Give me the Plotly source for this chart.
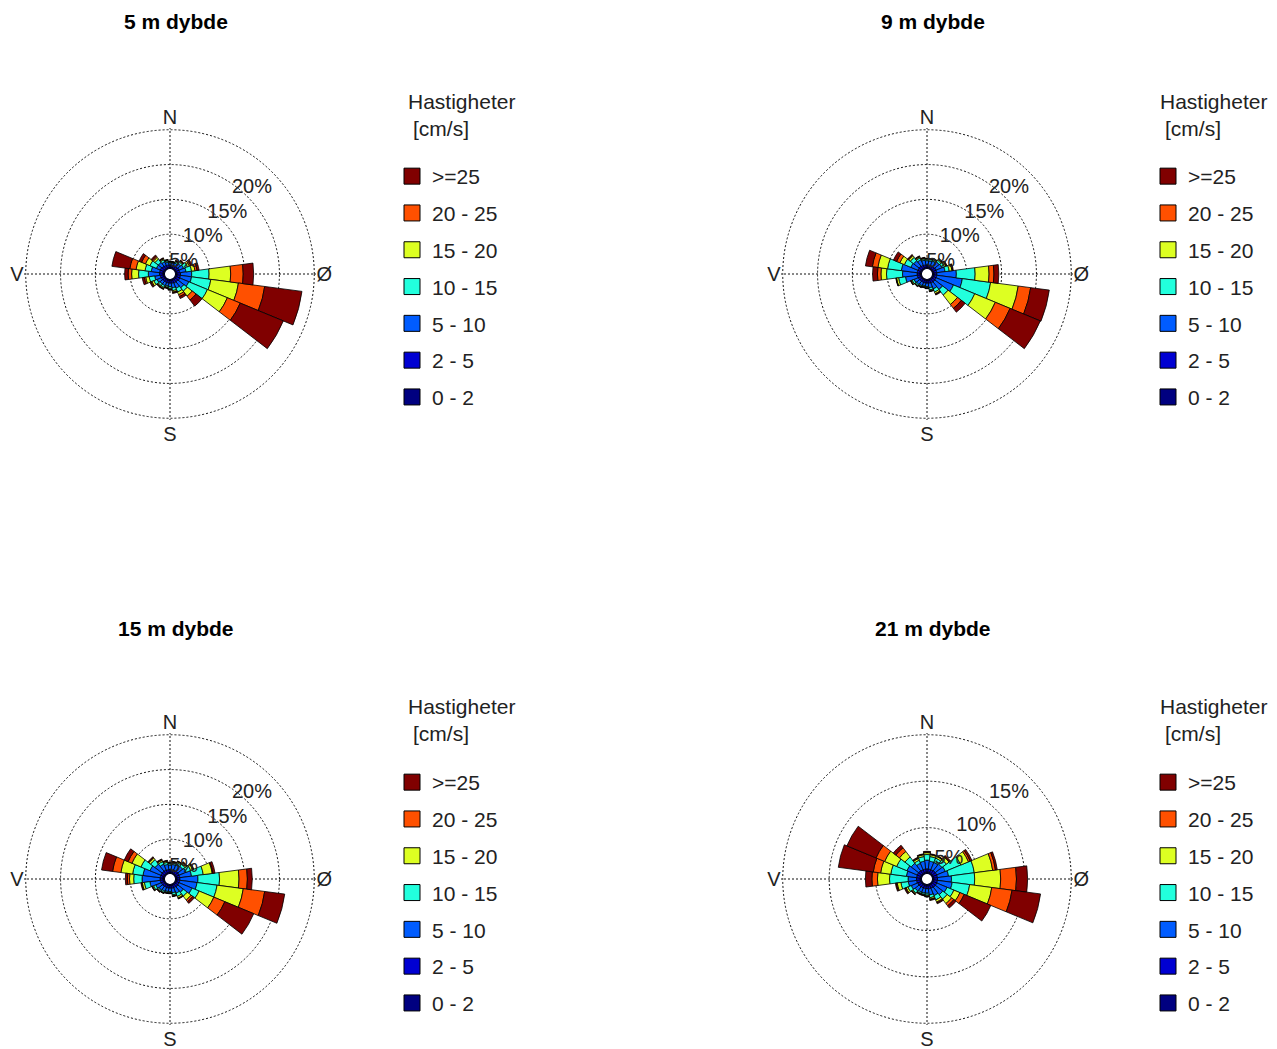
import numpy as np
import plotly.graph_objects as go

# ---------------- data ----------------
DIRECTIONS = list(range(0, 360, 15))          # compass degrees (N=0, clockwise)
CLASSES = ["0 - 2", "2 - 5", "5 - 10", "10 - 15", "15 - 20", "20 - 25", ">=25"]
CLASS_COLORS = ["#000080", "#0000D2", "#005CFF", "#22FFDD", "#DDFF22", "#FF5000", "#800000"]
TITLES = ["5 m dybde", "9 m dybde", "15 m dybde", "21 m dybde"]
COMPASS_TEXT = ["N", "Ø", "S", "V"]
COMPASS_VALS = [0, 90, 180, 270]
RINGS_20 = [5, 10, 15, 20]
RINGS_15 = [5, 10, 15]
LEGEND_TITLE_1 = "Hastigheter"
LEGEND_TITLE_2 = "[cm/s]"

# cumulative frequency (%) per direction, up to the upper bound of each speed class
CUM_5M = [
    [0.25, 0.6, 0.9, 1.0, 1.05, 1.08, 1.1],
    [0.25, 0.6, 0.9, 1.0, 1.05, 1.08, 1.1],
    [0.25, 0.6, 1.0, 1.2, 1.3, 1.35, 1.4],
    [0.25, 0.65, 1.2, 1.5, 1.65, 1.72, 1.8],
    [0.25, 0.7, 1.4, 2.0, 2.3, 2.5, 2.7],
    [0.25, 0.7, 1.6, 2.4, 2.9, 3.2, 3.5],
    [0.3, 0.8, 2.4, 4.9, 8.0, 9.8, 11.3],
    [0.3, 0.8, 2.4, 5.2, 9.2, 13.0, 18.4],
    [0.3, 0.8, 2.2, 5.1, 8.2, 10.2, 16.9],
    [0.3, 0.7, 1.8, 2.4, 3.3, 4.0, 5.1],
    [0.25, 0.7, 1.5, 2.1, 2.5, 2.8, 3.1],
    [0.25, 0.65, 1.3, 1.7, 1.9, 2.0, 2.1],
    [0.25, 0.6, 1.1, 1.35, 1.5, 1.55, 1.6],
    [0.25, 0.6, 1.0, 1.2, 1.3, 1.35, 1.4],
    [0.25, 0.6, 1.1, 1.4, 1.55, 1.62, 1.7],
    [0.25, 0.6, 1.1, 1.4, 1.55, 1.62, 1.7],
    [0.25, 0.65, 1.3, 1.8, 2.1, 2.25, 2.4],
    [0.25, 0.7, 1.5, 2.3, 2.8, 3.0, 3.3],
    [0.3, 0.8, 2.4, 3.8, 4.8, 5.3, 5.8],
    [0.3, 0.8, 2.0, 2.9, 4.2, 5.1, 7.7],
    [0.3, 0.8, 1.4, 2.4, 3.1, 3.7, 4.1],
    [0.25, 0.7, 1.4, 2.0, 2.3, 2.5, 2.7],
    [0.25, 0.65, 1.2, 1.5, 1.65, 1.72, 1.8],
    [0.25, 0.6, 1.0, 1.2, 1.3, 1.35, 1.4],
]
CUM_9M = [
    [0.25, 0.6, 1.2, 1.4, 1.5, 1.53, 1.56],
    [0.25, 0.6, 1.2, 1.4, 1.5, 1.53, 1.56],
    [0.25, 0.6, 1.3, 1.5, 1.6, 1.65, 1.7],
    [0.25, 0.65, 1.5, 1.8, 1.95, 2.03, 2.1],
    [0.25, 0.7, 1.6, 2.0, 2.2, 2.3, 2.4],
    [0.25, 0.7, 1.9, 2.5, 2.9, 3.0, 3.1],
    [0.3, 0.7, 3.5, 6.2, 8.2, 8.9, 9.6],
    [0.3, 0.7, 4.4, 8.5, 12.5, 14.3, 17.0],
    [0.3, 0.7, 3.4, 6.7, 9.9, 12.2, 16.9],
    [0.3, 0.7, 2.1, 3.1, 4.8, 5.5, 6.2],
    [0.25, 0.7, 1.6, 2.1, 2.35, 2.45, 2.55],
    [0.25, 0.65, 1.3, 1.6, 1.75, 1.8, 1.85],
    [0.25, 0.6, 1.1, 1.25, 1.33, 1.37, 1.4],
    [0.25, 0.6, 1.0, 1.15, 1.23, 1.27, 1.3],
    [0.25, 0.6, 1.1, 1.25, 1.33, 1.37, 1.4],
    [0.25, 0.6, 1.2, 1.4, 1.5, 1.53, 1.56],
    [0.25, 0.65, 1.3, 1.6, 1.75, 1.8, 1.85],
    [0.25, 0.7, 2.4, 3.4, 3.7, 3.75, 3.8],
    [0.3, 0.7, 2.8, 5.1, 5.9, 6.4, 7.1],
    [0.3, 0.7, 3.0, 5.0, 6.4, 7.2, 8.2],
    [0.3, 0.7, 1.8, 2.8, 3.5, 4.0, 4.5],
    [0.25, 0.7, 1.7, 2.3, 2.6, 2.7, 2.8],
    [0.25, 0.65, 1.5, 1.8, 1.95, 2.03, 2.1],
    [0.25, 0.6, 1.3, 1.5, 1.6, 1.65, 1.7],
]
CUM_15M = [
    [0.25, 0.65, 1.3, 1.5, 1.6, 1.65, 1.7],
    [0.25, 0.65, 1.4, 1.65, 1.75, 1.8, 1.85],
    [0.25, 0.65, 1.5, 1.85, 2.0, 2.05, 2.1],
    [0.25, 0.7, 1.6, 2.0, 2.2, 2.3, 2.4],
    [0.25, 0.7, 1.8, 2.5, 2.8, 2.9, 3.0],
    [0.3, 0.7, 2.4, 4.1, 5.4, 5.5, 5.8],
    [0.3, 0.7, 3.3, 6.4, 9.2, 10.4, 11.1],
    [0.3, 0.7, 3.2, 6.1, 9.9, 13.0, 15.9],
    [0.3, 0.7, 2.7, 3.8, 6.1, 7.8, 12.3],
    [0.3, 0.7, 1.7, 2.4, 3.1, 3.4, 3.7],
    [0.25, 0.65, 1.5, 2.0, 2.25, 2.33, 2.4],
    [0.25, 0.65, 1.3, 1.6, 1.75, 1.8, 1.85],
    [0.25, 0.6, 1.1, 1.25, 1.33, 1.37, 1.4],
    [0.25, 0.6, 1.1, 1.25, 1.33, 1.37, 1.4],
    [0.25, 0.6, 1.2, 1.4, 1.5, 1.53, 1.56],
    [0.25, 0.65, 1.3, 1.5, 1.6, 1.65, 1.7],
    [0.25, 0.65, 1.5, 1.85, 2.0, 2.05, 2.1],
    [0.25, 0.7, 2.2, 3.0, 3.3, 3.4, 3.5],
    [0.3, 0.7, 3.3, 4.5, 5.1, 5.4, 5.7],
    [0.3, 0.7, 3.2, 4.7, 6.4, 7.6, 9.2],
    [0.3, 0.7, 2.4, 3.8, 5.2, 5.8, 6.4],
    [0.25, 0.7, 2.0, 2.8, 3.1, 3.2, 3.3],
    [0.25, 0.7, 1.6, 2.0, 2.2, 2.3, 2.4],
    [0.25, 0.65, 1.4, 1.7, 1.85, 1.93, 2.0],
]
CUM_21M = [
    [0.2, 0.55, 1.5, 2.1, 2.3, 2.38, 2.45],
    [0.2, 0.55, 1.4, 1.9, 2.1, 2.15, 2.2],
    [0.2, 0.55, 1.4, 1.9, 2.1, 2.15, 2.2],
    [0.2, 0.6, 1.5, 2.1, 2.45, 2.55, 2.65],
    [0.2, 0.6, 1.6, 3.4, 4.3, 4.5, 4.7],
    [0.2, 0.6, 1.8, 4.6, 6.6, 6.9, 7.1],
    [0.2, 0.6, 2.1, 4.6, 7.4, 9.1, 10.3],
    [0.2, 0.6, 2.2, 4.1, 6.5, 8.7, 11.8],
    [0.2, 0.6, 1.8, 2.6, 3.3, 3.8, 6.9],
    [0.2, 0.6, 1.6, 2.2, 2.8, 3.1, 3.4],
    [0.2, 0.55, 1.4, 1.9, 2.15, 2.25, 2.35],
    [0.2, 0.55, 1.2, 1.5, 1.65, 1.72, 1.8],
    [0.2, 0.5, 1.0, 1.2, 1.3, 1.35, 1.4],
    [0.2, 0.5, 1.0, 1.15, 1.22, 1.26, 1.3],
    [0.2, 0.5, 1.0, 1.15, 1.22, 1.26, 1.3],
    [0.2, 0.55, 1.1, 1.4, 1.5, 1.55, 1.6],
    [0.2, 0.55, 1.3, 1.7, 1.9, 2.0, 2.1],
    [0.2, 0.6, 1.5, 2.3, 2.7, 2.8, 2.9],
    [0.2, 0.6, 1.5, 3.5, 4.8, 5.4, 6.1],
    [0.2, 0.6, 1.7, 3.4, 4.5, 5.3, 9.1],
    [0.2, 0.6, 1.8, 3.0, 4.4, 5.4, 8.8],
    [0.2, 0.6, 1.6, 2.45, 3.2, 3.7, 4.05],
    [0.2, 0.55, 1.3, 1.65, 1.85, 1.93, 2.0],
    [0.2, 0.55, 1.4, 1.9, 2.1, 2.15, 2.2],
]

# ---------------- layout helpers ----------------
OFF = 8                       # default page (body) margin of the html page
W, H = 1277 - 2 * OFF, 1049 - OFF
FONT = "Liberation Sans, Arial, Helvetica, sans-serif"
R_PX = 146
HOLE_PX = 5
LABEL_DROP_PX = 6             # ring labels sit a little below the 45° ring point


def px_x(x):
    return (x - OFF) / W


def px_y(y):
    return 1 - (y - OFF) / H


def ring_label_positions(rings, rmax_range):
    """Polar coords (data units) of ring-label anchors: 45° ring point nudged down."""
    span = R_PX - HOLE_PX
    rs, ts = [], []
    for v in rings:
        rp = HOLE_PX + span * v / rmax_range
        x = rp * np.sin(np.radians(45))
        y = rp * np.cos(np.radians(45)) - LABEL_DROP_PX
        rpn = np.hypot(x, y)
        rs.append((rpn - HOLE_PX) / span * rmax_range)
        ts.append(float(np.degrees(np.arctan2(x, y))))
    return rs, ts


PANELS = [
    dict(cum=CUM_5M, rings=RINGS_20, cx=170, cy=274, lx=392, ly=156, hx=406, hy=101, tx=176, ty=22),
    dict(cum=CUM_9M, rings=RINGS_20, cx=927, cy=274, lx=1148, ly=156, hx=1158, hy=101, tx=933, ty=22),
    dict(cum=CUM_15M, rings=RINGS_20, cx=170, cy=879, lx=392, ly=762, hx=406, hy=706, tx=176, ty=628),
    dict(cum=CUM_21M, rings=RINGS_15, cx=927, cy=879, lx=1148, ly=762, hx=1158, hy=706, tx=933, ty=628),
]

fig = go.Figure()
layout_updates = {}
annotations = []

for k, p in enumerate(PANELS):
    sub = "polar" if k == 0 else f"polar{k+1}"
    leg = "legend" if k == 0 else f"legend{k+1}"
    cum = np.array(p["cum"], dtype=float)
    inc = np.diff(np.hstack([np.zeros((cum.shape[0], 1)), cum]), axis=1)
    rmax = max(p["rings"])
    rrange = rmax * 1.0125

    for j, cls in enumerate(CLASSES):
        fig.add_trace(go.Barpolar(
            r=inc[:, j], theta=DIRECTIONS, width=15,
            marker=dict(color=CLASS_COLORS[j], line=dict(color="black", width=0.8)),
            name=cls, subplot=sub, showlegend=False, hoverinfo="r+theta+name",
        ))

    # ring labels
    lr, lt = ring_label_positions(p["rings"], rrange)
    fig.add_trace(go.Scatterpolar(
        r=lr, theta=lt, mode="text",
        text=[f"{v}%" for v in p["rings"]], textposition="bottom left",
        textfont=dict(size=20, color="#222", family=FONT),
        subplot=sub, showlegend=False, hoverinfo="skip",
    ))

    # legend entries (highest class on top)
    for j in reversed(range(len(CLASSES))):
        fig.add_trace(go.Scatterpolar(
            r=[None], theta=[None], mode="markers",
            marker=dict(symbol="square", size=16, color=CLASS_COLORS[j],
                        line=dict(color="black", width=1)),
            name=CLASSES[j], subplot=sub, legend=leg,
            legendgroup=f"{leg}_{j}", showlegend=True,
        ))

    layout_updates[sub] = dict(
        domain=dict(x=[px_x(p["cx"] - R_PX), px_x(p["cx"] + R_PX)],
                    y=[px_y(p["cy"] + R_PX), px_y(p["cy"] - R_PX)]),
        hole=HOLE_PX / R_PX,
        bgcolor="white",
        barmode="stack",
        radialaxis=dict(range=[0, rrange], tickvals=p["rings"], showticklabels=False,
                        showline=False, ticks="", gridcolor="#111", griddash="2px,2px", gridwidth=1),
        angularaxis=dict(direction="clockwise", rotation=90, tickmode="array",
                         tickvals=COMPASS_VALS, ticktext=COMPASS_TEXT, showline=False,
                         ticks="", gridcolor="#111", griddash="2px,2px", gridwidth=1,
                         tickfont=dict(size=20, color="#222", family=FONT)),
    )
    layout_updates[leg] = dict(
        x=px_x(p["lx"]), y=px_y(p["ly"]), xanchor="left", yanchor="top",
        font=dict(size=21, color="#222", family=FONT),
        tracegroupgap=6.5, bgcolor="rgba(0,0,0,0)", itemsizing="trace",
    )
    annotations.append(dict(
        text=f"<b>{TITLES[k]}</b>", x=px_x(p["tx"]), y=px_y(p["ty"]),
        xref="paper", yref="paper", xanchor="center", yanchor="middle",
        showarrow=False, font=dict(size=21, color="black", family=FONT),
    ))
    annotations.append(dict(
        text=LEGEND_TITLE_1, x=px_x(p["hx"]), y=px_y(p["hy"]),
        xref="paper", yref="paper", xanchor="left", yanchor="middle",
        showarrow=False, font=dict(size=21, color="#222", family=FONT),
    ))
    annotations.append(dict(
        text=LEGEND_TITLE_2, x=px_x(p["hx"] + 5), y=px_y(p["hy"] + 27),
        xref="paper", yref="paper", xanchor="left", yanchor="middle",
        showarrow=False, font=dict(size=21, color="#222", family=FONT),
    ))

fig.update_layout(
    width=W, height=H,
    margin=dict(l=0, r=0, t=0, b=0, autoexpand=False),
    paper_bgcolor="white", plot_bgcolor="white",
    font=dict(family=FONT, color="#222"),
    annotations=annotations,
    **layout_updates,
)

fig.write_html("out.html")
